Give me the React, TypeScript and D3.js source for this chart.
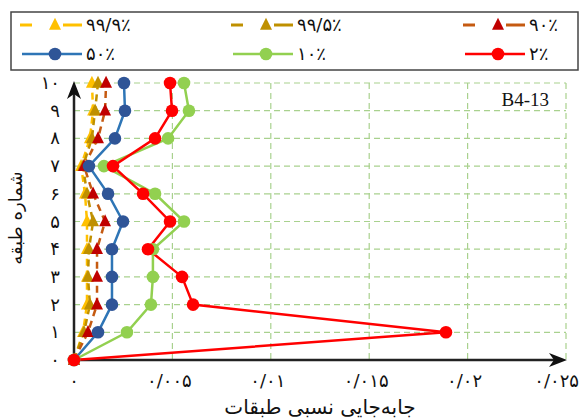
import React from "react";
import * as d3 from "d3";

const floors = [0, 1, 2, 3, 4, 5, 6, 7, 8, 9, 10];
const floorLabels = ["۰", "۱", "۲", "۳", "۴", "۵", "۶", "۷", "۸", "۹", "۱۰"];
const xTicks = [0, 0.005, 0.01, 0.015, 0.02, 0.025];
const xTickLabels = ["۰", "۰/۰۰۵", "۰/۰۱", "۰/۰۱۵", "۰/۰۲", "۰/۰۲۵"];

const s999 = [0, 0.00046, 0.00066, 0.00066, 0.00066, 0.00066, 0.00056, 0.00036, 0.00081, 0.00097, 0.00091];
const s995 = [0, 0.00051, 0.00081, 0.00071, 0.00076, 0.00097, 0.00066, 0.00046, 0.00091, 0.00107, 0.00122];
const s90 = [0, 0.00071, 0.00117, 0.00117, 0.00117, 0.00158, 0.00097, 0.00051, 0.00122, 0.00158, 0.00163];
const s50 = [0, 0.00122, 0.00193, 0.00193, 0.00193, 0.00249, 0.00173, 0.00076, 0.00208, 0.00259, 0.00254];
const s10 = [0, 0.00269, 0.00391, 0.00401, 0.00401, 0.00559, 0.00412, 0.00152, 0.00478, 0.00584, 0.00559];
const s2 = [0, 0.0189, 0.00605, 0.00549, 0.00376, 0.00488, 0.00351, 0.00198, 0.00412, 0.00498, 0.00488];

const seriesNames = ["۹۹/۹٪", "۹۹/۵٪", "۹۰٪", "۵۰٪", "۱۰٪", "۲٪"];

type Series = { name: string; values: number[]; line: string; marker: string; shape: "tri" | "circle"; dashed: boolean };
const series: Series[] = [
  { name: seriesNames[0], values: s999, line: "#FFC000", marker: "#FFC000", shape: "tri", dashed: true },
  { name: seriesNames[1], values: s995, line: "#BF9000", marker: "#BF9000", shape: "tri", dashed: true },
  { name: seriesNames[2], values: s90, line: "#C55A11", marker: "#C00000", shape: "tri", dashed: true },
  { name: seriesNames[3], values: s50, line: "#2E75B6", marker: "#2F5597", shape: "circle", dashed: false },
  { name: seriesNames[4], values: s10, line: "#92D050", marker: "#92D050", shape: "circle", dashed: false },
  { name: seriesNames[5], values: s2, line: "#FF0000", marker: "#FF0000", shape: "circle", dashed: false },
];

const W = 582, H = 419;
const x = d3.scaleLinear().domain([0, 0.025]).range([74, 566]);
const y = d3.scaleLinear().domain([0, 10]).range([360, 83]);
const FONT = "'DejaVu Sans', sans-serif";

function Marker({ s, cx, cy, r = 6.3 }: { s: Series; cx: number; cy: number; r?: number }) {
  if (s.shape === "circle") return <circle cx={cx} cy={cy} r={r} fill={s.marker} />;
  const h = r * 1.9;
  const w = r * 1.9;
  return (
    <path
      d={`M${cx},${cy - h * 0.6} L${cx + w / 2},${cy + h * 0.4} L${cx - w / 2},${cy + h * 0.4} Z`}
      fill={s.marker}
    />
  );
}

export default function App() {
  const line = d3
    .line<number>()
    .x((d) => x(d))
    .y((_, i) => y(floors[i]));

  const legendCols = [20, 231, 463];
  const legendRows = [25, 54];

  return (
    <svg width={W} height={H} style={{ position: "absolute", left: 0, top: 0, background: "#fff" }}>
      {/* legend */}
      <rect x={11} y={12} width={567} height={58} fill="#fff" stroke="#444" strokeWidth={1.5} />
      {series.map((s, i) => {
        const col = i % 3;
        const row = Math.floor(i / 3);
        const x0 = legendCols[col];
        const cy = legendRows[row];
        const mx = x0 + 35;
        return (
          <g key={"lg" + i}>
            {s.dashed ? (
              <>
                <line x1={x0} x2={x0 + 12} y1={cy} y2={cy} stroke={s.line} strokeWidth={3} />
                <line x1={mx + 8} x2={x0 + 62} y1={cy} y2={cy} stroke={s.line} strokeWidth={3} />
              </>
            ) : (
              <line x1={x0 + 2} x2={x0 + 62} y1={cy} y2={cy} stroke={s.line} strokeWidth={2.5} />
            )}
            <Marker s={s} cx={mx} cy={cy} />
            <text x={x0 + 66} y={cy + 6} fontFamily={FONT} fontSize={18} fill="#111" direction="ltr">
              {s.name}
            </text>
          </g>
        );
      })}

      {/* grid */}
      {floors.slice(1).map((f) => (
        <line key={"gh" + f} x1={x(0)} x2={x(0.025)} y1={y(f)} y2={y(f)} stroke="#A9D18E" strokeWidth={1.2} strokeDasharray="6,4" />
      ))}
      {xTicks.slice(1).map((t) => (
        <line key={"gv" + t} x1={x(t)} x2={x(t)} y1={y(10)} y2={y(0)} stroke="#A9D18E" strokeWidth={1.2} strokeDasharray="6,4" />
      ))}

      {/* axes */}
      <line x1={x(0)} x2={556} y1={y(0)} y2={y(0)} stroke="#222" strokeWidth={2.5} />
      <path d={`M567,${y(0)} L549,${y(0) - 7} L554,${y(0)} L549,${y(0) + 7} Z`} fill="#111" />
      <line x1={x(0)} x2={x(0)} y1={y(0)} y2={92} stroke="#222" strokeWidth={2.5} />
      <path d={`M${x(0)},81 L${x(0) - 7},99 L${x(0)},94 L${x(0) + 7},99 Z`} fill="#111" />

      {/* tick labels */}
      {xTicks.map((t, i) => {
        const last = i === xTicks.length - 1;
        return (
          <text
            key={"xt" + i}
            x={last ? 579 : i === 0 ? x(t) : x(t) - 3}
            y={387}
            textAnchor={last ? "end" : "middle"}
            fontFamily={FONT}
            fontSize={18}
            fill="#111"
            direction="ltr"
          >
            {xTickLabels[i]}
          </text>
        );
      })}
      {floors.map((f, i) => (
        <text key={"yt" + i} x={60} y={y(f) + 6} textAnchor="end" fontFamily={FONT} fontSize={18} fill="#111" direction="ltr">
          {floorLabels[i]}
        </text>
      ))}

      {/* axis titles */}
      <text x={320} y={414} textAnchor="middle" fontFamily={FONT} fontSize={20} fill="#111">
        جابه‌جایی نسبی طبقات
      </text>
      <text transform="translate(22,218) rotate(-90)" textAnchor="middle" fontFamily={FONT} fontSize={18} fill="#111">
        شماره طبقه
      </text>

      <text x={549} y={106} textAnchor="end" fontFamily="'Liberation Serif', serif" fontSize={19} fill="#111">
        B4-13
      </text>

      {/* series */}
      {series.map((s, i) => (
        <path
          key={"ln" + i}
          d={line(s.values) || ""}
          fill="none"
          stroke={s.line}
          strokeWidth={2.5}
          strokeDasharray={s.dashed ? "7,5" : undefined}
        />
      ))}
      {series.map((s, i) => (
        <g key={"mk" + i}>
          {s.values.map((v, j) => (
            <Marker key={j} s={s} cx={x(v)} cy={y(floors[j])} />
          ))}
        </g>
      ))}
    </svg>
  );
}
